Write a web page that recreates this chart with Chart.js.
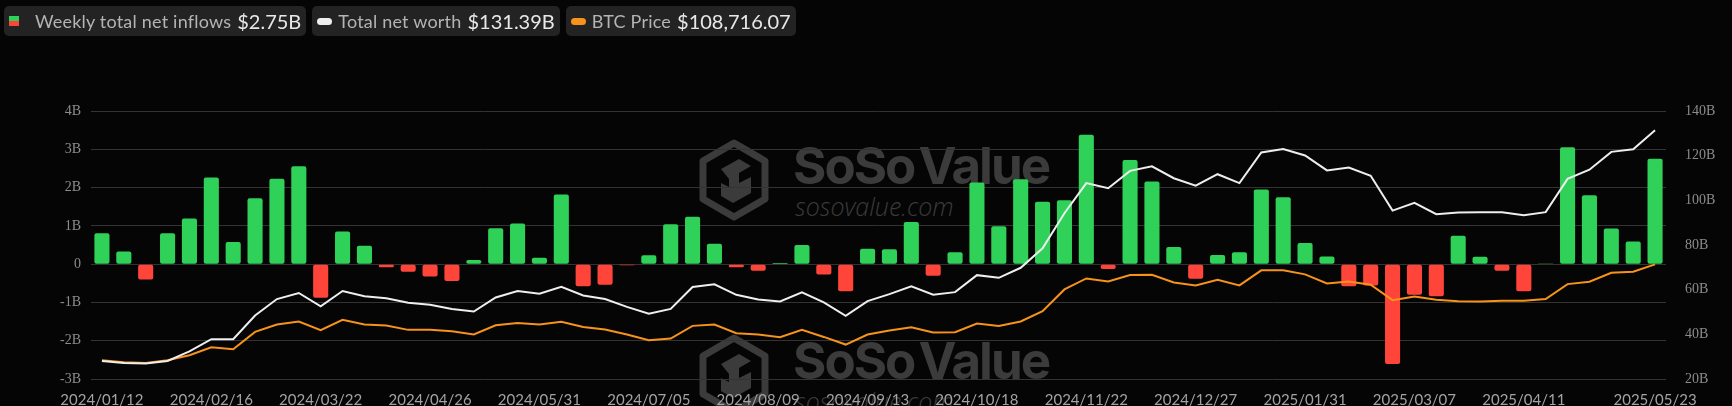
<!DOCTYPE html>
<html>
<head>
<meta charset="utf-8">
<script src="https://cdn.jsdelivr.net/npm/chart.js@4.4.1/dist/chart.umd.min.js"></script>
<style>
  html, body { margin: 0; padding: 0; background: #050505; }
  #wrap { position: relative; width: 1732px; height: 406px; overflow: hidden; }
  #mark { position: absolute; left: 0; top: 0; width: 1732px; height: 406px; z-index: 0; }
  .wm { position: absolute; left: 699px; }
  .wm svg { position: absolute; left: 0; top: 0; }
  .wm .big { position: absolute; left: 94px; top: -4px; font: 700 51px Inter, sans-serif; letter-spacing: -2px; word-spacing: -6px; color: #3b3b3b; white-space: nowrap; }
  .wm .small { position: absolute; left: 96px; top: 50px; font: italic 300 25px "Open Sans", sans-serif; color: #3b3b3b; white-space: nowrap; }
  canvas { position: absolute; left: 0; top: 0; z-index: 1; }
  #legend { position: absolute; left: 4px; top: 6px; z-index: 2; display: flex; gap: 6px; font-family: Lato, sans-serif; }
  .item { background: #232323; border-radius: 5px; height: 30px; display: flex; align-items: center; padding: 0 5px; white-space: nowrap; }
  .lbl { color: #b4b4b4; font-size: 18px; letter-spacing: 0.2px; margin-left: 6px; }
  .val { color: #e8e8e8; font-size: 20px; margin-left: 6px; }
  .sq { width: 10px; height: 10px; display: inline-block; margin-right: 10px; background: linear-gradient(#30d158 50%, #ff453a 50%); }
  .pill { width: 15px; height: 7px; border-radius: 4px; display: inline-block; }
</style>
</head>
<body>
<div id="wrap">
  <div id="mark"></div>
  <canvas id="mycanvas" width="1732" height="406"></canvas>
  <div id="legend">
    <div class="item"><span class="sq"></span><span class="lbl">Weekly total net inflows</span><span class="val">$2.75B</span></div>
    <div class="item"><span class="pill" style="background:#eeeeee"></span><span class="lbl">Total net worth</span><span class="val">$131.39B</span></div>
    <div class="item"><span class="pill" style="background:#f7931a"></span><span class="lbl">BTC Price</span><span class="val">$108,716.07</span></div>
  </div>
</div>
<script>
var weeks = [
  "2024/01/12","2024/01/19","2024/01/26","2024/02/02","2024/02/09","2024/02/16","2024/02/23","2024/03/01","2024/03/08","2024/03/15",
  "2024/03/22","2024/03/29","2024/04/05","2024/04/12","2024/04/19","2024/04/26","2024/05/03","2024/05/10","2024/05/17","2024/05/24",
  "2024/05/31","2024/06/07","2024/06/14","2024/06/21","2024/06/28","2024/07/05","2024/07/12","2024/07/19","2024/07/26","2024/08/02",
  "2024/08/09","2024/08/16","2024/08/23","2024/08/30","2024/09/06","2024/09/13","2024/09/20","2024/09/27","2024/10/04","2024/10/11",
  "2024/10/18","2024/10/25","2024/11/01","2024/11/08","2024/11/15","2024/11/22","2024/11/29","2024/12/06","2024/12/13","2024/12/20",
  "2024/12/27","2025/01/03","2025/01/10","2025/01/17","2025/01/24","2025/01/31","2025/02/07","2025/02/14","2025/02/21","2025/02/28",
  "2025/03/07","2025/03/14","2025/03/21","2025/03/28","2025/04/04","2025/04/11","2025/04/18","2025/04/25","2025/05/02","2025/05/09",
  "2025/05/16","2025/05/23"
];

// weekly net inflows, billions USD
var inflows = [
  0.81, 0.33, -0.40, 0.81, 1.19, 2.26, 0.58, 1.72, 2.23, 2.56,
  -0.88, 0.85, 0.48, -0.08, -0.20, -0.32, -0.44, 0.11, 0.94, 1.06,
  0.17, 1.82, -0.58, -0.54, -0.03, 0.23, 1.04, 1.24, 0.53, -0.08,
  -0.17, 0.03, 0.50, -0.27, -0.71, 0.40, 0.39, 1.10, -0.30, 0.31,
  2.13, 0.99, 2.22, 1.63, 1.67, 3.38, -0.13, 2.72, 2.16, 0.45,
  -0.38, 0.24, 0.31, 1.95, 1.75, 0.55, 0.20, -0.58, -0.56, -2.61,
  -0.80, -0.84, 0.74, 0.19, -0.17, -0.71, 0.02, 3.05, 1.80, 0.93,
  0.59, 2.75
];

// total net worth, billions USD
var netWorth = [
  28.1, 27.2, 26.9, 28.1, 32.4, 37.8, 37.8, 48.4, 55.8, 58.5,
  52.5, 59.4, 57.1, 56.2, 54.1, 53.2, 51.3, 50.2, 56.5, 59.4,
  58.2, 61.3, 57.4, 55.8, 52.3, 49.2, 51.4, 61.2, 62.4, 57.7,
  55.6, 54.7, 58.8, 54.3, 48.3, 54.9, 58.0, 61.5, 57.7, 58.9,
  66.5, 65.3, 69.8, 78.5, 94.2, 107.7, 105.4, 113.2, 115.2, 109.9,
  106.6, 111.7, 107.7, 121.4, 123.0, 120.1, 113.4, 114.7, 111.0, 95.4,
  98.9, 93.8, 94.5, 94.7, 94.7, 93.3, 94.7, 109.6, 113.7, 121.7,
  122.9, 131.39
];

// BTC price, USD
var btcPrice = [
  42800, 41400, 40950, 42800, 46250, 51750, 50350, 62300, 67350, 69450,
  63450, 70600, 67350, 66700, 63700, 63700, 62800, 60500, 66900, 68500,
  67350, 69200, 65750, 63900, 60500, 56550, 57700, 66450, 67350, 61400,
  60500, 58650, 63700, 58850, 53600, 60500, 63250, 65550, 61850, 62100,
  68050, 66450, 69450, 76550, 91500, 99050, 97000, 101350, 101600, 96300,
  94250, 98150, 94250, 104600, 104600, 101850, 95600, 97000, 94700, 84150,
  86650, 84350, 83450, 83200, 83700, 83700, 84850, 95150, 96750, 102950,
  103650, 108716.07
];

var leftTicks = { min: -3, max: 4, step: 1 };
var rightTicks = { min: 20, max: 140, step: 20 };

// watermarks
function addMark(top) {
  var d = document.createElement('div');
  d.className = 'wm';
  d.style.top = top + 'px';
  d.innerHTML =
    '<svg width="70" height="82" viewBox="0 0 70 82">' +
    '<polygon points="35,4 66,22 66,60 35,78 4,60 4,22" fill="none" stroke="#3b3b3b" stroke-width="7" stroke-linejoin="round"/>' +
    '<path d="M22,30 L40,20 L52,27 L40,34 L40,44 L52,38 L52,54 L34,64 L22,57 L22,44 L30,48 L30,40 Z" fill="#3b3b3b"/>' +
    '</svg>' +
    '<div class="big">SoSo Value</div>' +
    '<div class="small">sosovalue.com</div>';
  document.getElementById('mark').appendChild(d);
}
addMark(139);
addMark(334);

var ctx = document.getElementById('mycanvas');

var chart = new Chart(ctx, {
  data: {
    labels: weeks,
    datasets: [
      {
        type: 'line',
        label: 'BTC Price',
        data: btcPrice,
        yAxisID: 'yBtc',
        borderColor: '#f7931a',
        borderWidth: 2,
        pointRadius: 0,
        tension: 0,
        order: 1
      },
      {
        type: 'line',
        label: 'Total net worth',
        data: netWorth,
        yAxisID: 'yRight',
        borderColor: '#eeeeee',
        borderWidth: 2,
        pointRadius: 0,
        tension: 0,
        order: 0
      },
      {
        type: 'bar',
        label: 'Weekly total net inflows',
        data: inflows,
        yAxisID: 'y',
        backgroundColor: inflows.map(function(v) { return v >= 0 ? '#30d158' : '#ff453a'; }),
        borderRadius: 2,
        borderSkipped: false,
        categoryPercentage: 1,
        barPercentage: 0.69,
        order: 2
      }
    ]
  },
  options: {
    responsive: false,
    animation: false,
    devicePixelRatio: 1,
    layout: { padding: { top: 111, left: 0, right: 0, bottom: 0 } },
    plugins: { legend: { display: false }, tooltip: { enabled: false } },
    scales: {
      x: {
        offset: true,
        grid: { display: false },
        border: { display: false },
        ticks: {
          autoSkip: false,
          maxRotation: 0,
          color: '#a3a3a3',
          font: { family: 'Lato', size: 15 },
          padding: 4,
          callback: function(v, i) {
            if ((i % 5 === 0 && i <= 65) || i === weeks.length - 1) return weeks[i];
            return '';
          }
        },
        afterFit: function(s) { s.height = 27; }
      },
      y: {
        position: 'left',
        min: leftTicks.min,
        max: leftTicks.max,
        grid: { color: '#333333', lineWidth: 1, drawTicks: false },
        border: { display: false },
        ticks: {
          stepSize: leftTicks.step,
          color: '#8c8c8c',
          font: { family: 'Liberation Serif', size: 14 },
          padding: 10,
          callback: function(v) { return v === 0 ? '0' : v + 'B'; }
        },
        afterFit: function(s) { s.width = 91; }
      },
      yRight: {
        position: 'right',
        min: rightTicks.min,
        max: rightTicks.max,
        grid: { display: false },
        border: { display: false },
        ticks: {
          stepSize: rightTicks.step,
          color: '#8c8c8c',
          font: { family: 'Liberation Serif', size: 14 },
          padding: 11,
          callback: function(v) { return v + 'B'; }
        },
        afterFit: function(s) { s.width = 66; }
      },
      yBtc: {
        display: false,
        min: 29930,
        max: 214150
      }
    }
  }
});
</script>
</body>
</html>
